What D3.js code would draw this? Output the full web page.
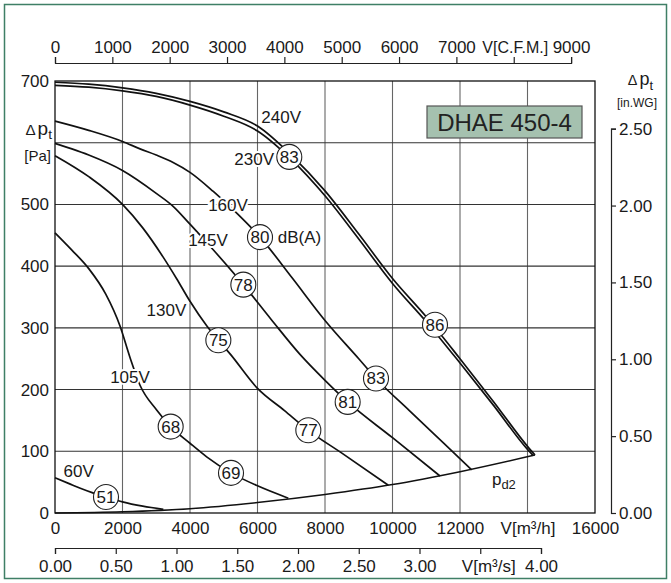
<!DOCTYPE html>
<html><head><meta charset="utf-8">
<script src="https://cdn.jsdelivr.net/npm/d3@7"></script>
<style>
body{margin:0;background:#fff}
text{font-family:"Liberation Sans",Arial,Helvetica,sans-serif;fill:#1a1a1a}
</style>
</head><body>
<svg id="chart" width="671" height="583"></svg>
<script>
// ---------- data (flow in m³/h, pressure in Pa) ----------
const flowTicks = [0,2000,4000,6000,8000,10000,12000,14000,16000];
const flowTickLabels = ["0","2000","4000","6000","8000","10000","12000","V[m³/h]","16000"];
const pressureTicks = [0,100,200,300,400,500,600,700];
const pressureTickLabels = ["0","100","200","300","400","500","","700"];
const cfmTicks = [0,1000,2000,3000,4000,5000,6000,7000,8000,9000];
const cfmTickLabels = ["0","1000","2000","3000","4000","5000","6000","7000","V[C.F.M.]","9000"];
const m3sTicks = [0,0.5,1,1.5,2,2.5,3,3.5,4];
const m3sTickLabels = ["0.00","0.50","1.00","1.50","2.00","2.50","3.00","V[m³/s]","4.00"];
const inwgTicks = [0,0.5,1,1.5,2,2.5];
const inwgTickLabels = ["0.00","0.50","1.00","1.50","2.00","2.50"];

const curve240 = [[0,698],[1000,695],[2000,689],[3000,680],[4000,667],[5000,650],[6000,627],[7000,580],[8000,522],[9000,452],[10000,380],[11000,318],[12000,250],[13000,180],[14000,108],[14222,94]];
const curve230 = [[0,693],[1000,690],[2000,684],[3000,675],[4000,661],[5000,643],[6000,619],[7000,573],[8000,514],[9000,444],[10000,372],[11000,310],[12000,243],[13000,174],[14000,103],[14170,93]];
const curve160 = [[0,635],[1000,620],[2000,602],[2519,590],[3000,580],[3500,568],[4000,552],[4691,521],[5400,485],[6074,447],[7013,382],[8000,312],[9000,250],[9511,218],[10500,166],[11500,114],[12346,70]];
const curve145 = [[0,599],[500,590],[1000,580],[2000,555],[3000,518],[3500,497],[4000,468],[4681,427],[5580,370],[6400,314],[7259,257],[8000,215],[8672,180],[10000,122],[11407,60]];
const curve130 = [[0,579],[1000,545],[2000,500],[2600,462],[3200,415],[3600,380],[4000,343],[4500,303],[4840,280],[5200,257],[6000,202],[6800,166],[7506,134],[8500,97],[9876,45]];
const curve105 = [[0,454],[500,426],[1000,396],[1500,355],[1926,303],[2222,252],[2519,207],[3012,167],[3427,140],[4000,113],[4494,91],[5215,65],[6000,44],[6914,24]];
const curve60 = [[0,57],[400,48],[750,40],[1100,33],[1511,26],[2000,18],[2600,11],[3210,6]];
const curvePd2 = [[0,0],[2000,2],[4000,7],[6000,17],[8000,30],[10000,46],[12000,67],[14222,94]];

const seriesCurves = [curve240, curve230, curve160, curve145, curve130, curve105, curve60];

const voltageLabels = ["240V","230V","160V","145V","130V","105V","60V"];
const voltageLabelAt = [[6700,642],[5900,574],[5126,499],[4533,442],[3300,329],[2222,220],[700,68]];

const soundValues = ["83","86","80","83","81","78","75","77","68","69","51"];
const soundAt = [[6942,577],[11259,305],[6074,447],[9511,218],[8672,180],[5580,370],[4840,280],[7506,134],[3427,140],[5215,65],[1511,26]];

const unitLabel = "dB(A)";
const unitLabelAt = [6600,447];
const pd2LabelAt = [13300,52];
const modelName = "DHAE 450-4";

// ---------- conversion constants ----------
const M3H_PER_CFM = 1.699011;
const M3H_PER_M3S = 3600;
const PA_PER_INWG = 249.089;

// ---------- layout ----------
const FS = 17;
const svg = d3.select("#chart");
const L = 55, R = 595, T = 81, B = 513;

const x = d3.scaleLinear().domain([0,16000]).range([L,R]);
const y = d3.scaleLinear().domain([0,700]).range([B,T]);
const xCfm = d3.scaleLinear().domain([0,9000]).range([L, x(9000*M3H_PER_CFM)]);
const xM3s = d3.scaleLinear().domain([0,4]).range([L, x(4*M3H_PER_M3S)]);
const yIn = d3.scaleLinear().domain([0,2.5]).range([B, y(2.5*PA_PER_INWG)]);

// outer frame
svg.append("rect").attr("x",4.5).attr("y",4.5).attr("width",662).attr("height",574)
  .attr("fill","none").attr("stroke","#3f7f66").attr("stroke-width",1.5);

// grid
const grid = svg.append("g");
grid.selectAll("line.v").data(flowTicks.filter(d=>d>0&&d<16000)).join("line")
  .attr("x1",d=>x(d)).attr("x2",d=>x(d)).attr("y1",T).attr("y2",B)
  .attr("stroke","#666").attr("stroke-width",1.1);
grid.selectAll("line.h").data(pressureTicks.filter(d=>d>0&&d<700)).join("line")
  .attr("x1",L).attr("x2",R).attr("y1",d=>y(d)).attr("y2",d=>y(d))
  .attr("stroke","#333").attr("stroke-width",1.1);

// plot border
svg.append("rect").attr("x",L).attr("y",T).attr("width",R-L).attr("height",B-T)
  .attr("fill","none").attr("stroke","#111").attr("stroke-width",1.3);

// model box
const bx = 427, by = 106;
svg.append("rect").attr("x",bx).attr("y",by).attr("width",155).attr("height",32)
  .attr("fill","#a5c1af").attr("stroke","#555").attr("stroke-width",1.2);
svg.append("text").attr("x",bx+77.5).attr("y",by+25).attr("text-anchor","middle")
  .attr("font-size",24).style("fill","#222").text(modelName);

// axes
function styleAxis(g){
  g.selectAll("path.domain").attr("stroke","#222").attr("stroke-width",1.2);
  g.selectAll(".tick line").attr("stroke","#222").attr("stroke-width",1.2);
  g.selectAll("text").attr("font-size",FS).style("font-family",'"Liberation Sans",Arial,sans-serif').style("fill","#1a1a1a");
}
// top CFM
const gTop = svg.append("g").attr("transform","translate(0,63)")
  .call(d3.axisTop(xCfm).tickValues(cfmTicks).tickSize(6).tickSizeOuter(6).tickPadding(4)
    .tickFormat((d,i)=>cfmTickLabels[i]));
styleAxis(gTop);
gTop.selectAll(".tick text").filter(d=>d===8000).attr("font-size",16).attr("dx",1);
// left Pa
const gLeft = svg.append("g").attr("transform",`translate(${L},0)`)
  .call(d3.axisLeft(y).tickValues(pressureTicks).tickSize(0).tickPadding(6)
    .tickFormat((d,i)=>pressureTickLabels[i]));
styleAxis(gLeft); gLeft.select("path.domain").remove();
// bottom m3/h
const gBot = svg.append("g").attr("transform",`translate(0,${B})`)
  .call(d3.axisBottom(x).tickValues(flowTicks).tickSize(0).tickPadding(9)
    .tickFormat((d,i)=>flowTickLabels[i]));
styleAxis(gBot); gBot.select("path.domain").remove();
// bottom m3/s
const gBot2 = svg.append("g").attr("transform","translate(0,548)")
  .call(d3.axisBottom(xM3s).tickValues(m3sTicks).tickSize(6).tickSizeOuter(6).tickPadding(6)
    .tickFormat((d,i)=>m3sTickLabels[i]));
styleAxis(gBot2);
gBot2.selectAll(".tick text").filter(d=>d===3.5).attr("dx",8);
// right in.WG
const gRight = svg.append("g").attr("transform","translate(611,0)")
  .call(d3.axisRight(yIn).tickValues(inwgTicks).tickSize(5).tickSizeOuter(5).tickPadding(3)
    .tickFormat((d,i)=>inwgTickLabels[i]));
styleAxis(gRight);

// axis titles
function dpt(xp, yp, size, anchor){
  const t = svg.append("text").attr("x",xp).attr("y",yp).attr("font-size",size).attr("text-anchor",anchor);
  t.append("tspan").text("Δ").attr("font-size",size*0.8);
  t.append("tspan").text("p").attr("dx",2);
  t.append("tspan").text("t").attr("font-size",size*0.72).attr("dy",size*0.25);
}
dpt(52, y(600)-8, 19, "end");
svg.append("text").attr("x",51).attr("y",y(600)+18).attr("text-anchor","end").attr("font-size",15).text("[Pa]");
dpt(653, 85, 18, "end");
svg.append("text").attr("x",637).attr("y",107).attr("text-anchor","middle").attr("font-size",12).text("[in.WG]");

// curves
const line = d3.line().x(d=>x(d[0])).y(d=>y(d[1])).curve(d3.curveMonotoneX);
svg.append("g").selectAll("path").data(seriesCurves).join("path")
  .attr("d",line).attr("fill","none").attr("stroke","#111").attr("stroke-width",1.7);
svg.append("path").attr("d",line(curvePd2)).attr("fill","none").attr("stroke","#111").attr("stroke-width",1.5);

// voltage labels (with white halo)
svg.append("g").selectAll("text").data(voltageLabels).join("text")
  .attr("x",(d,i)=>x(voltageLabelAt[i][0])).attr("y",(d,i)=>y(voltageLabelAt[i][1])+6)
  .attr("text-anchor","middle").attr("font-size",FS)
  .attr("stroke","#fff").attr("stroke-width",4).attr("paint-order","stroke")
  .text(d=>d);

// dB(A)
svg.append("text").attr("x",x(unitLabelAt[0])).attr("y",y(unitLabelAt[1])+6)
  .attr("font-size",FS).attr("stroke","#fff").attr("stroke-width",3).attr("paint-order","stroke")
  .text(unitLabel);

// pd2
const pt = svg.append("text").attr("x",x(pd2LabelAt[0])).attr("y",y(pd2LabelAt[1])+4)
  .attr("text-anchor","middle").attr("font-size",FS);
pt.append("tspan").text("p");
pt.append("tspan").text("d2").attr("font-size",13).attr("dy",4);

// sound level circles
const gs = svg.append("g").selectAll("g").data(soundValues).join("g")
  .attr("transform",(d,i)=>`translate(${x(soundAt[i][0])},${y(soundAt[i][1])})`);
gs.append("circle").attr("r",12.5).attr("fill","#fff").attr("stroke","#222").attr("stroke-width",1.1);
gs.append("text").attr("text-anchor","middle").attr("y",6).attr("font-size",FS).text(d=>d);
</script>
</body></html>
